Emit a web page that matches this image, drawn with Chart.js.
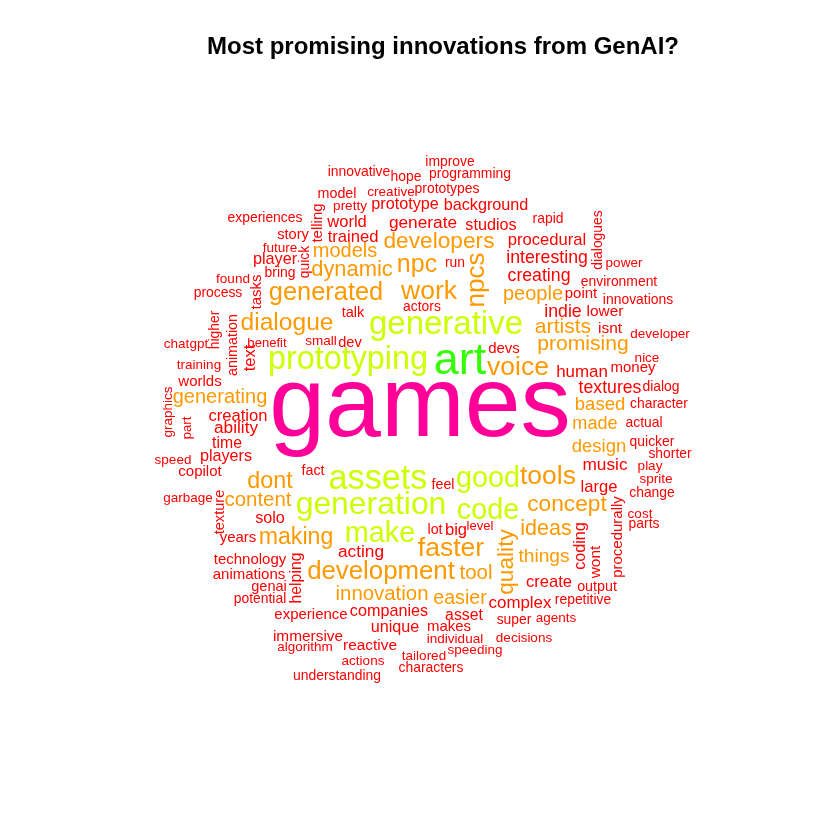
<!DOCTYPE html>
<html>
<head>
<meta charset="utf-8">
<script src="https://cdn.jsdelivr.net/npm/chart.js@4.4.1/dist/chart.umd.min.js"></script>
<style>
  html, body { margin: 0; padding: 0; background: #ffffff; }
  #wrap { width: 840px; height: 840px; }
</style>
</head>
<body>
<div id="wrap"><canvas id="c" width="840" height="840"></canvas></div>
<script>
// ---- Data: word frequencies (relative counts) and their placement in the cloud ----
const titleText = "Most promising innovations from GenAI?";

const words = [
  "games","art","generative","prototyping","assets","generation","good","code","make",
  "tools","npc","npcs","work","voice","faster","developers","generated","dialogue","dynamic",
  "models","artists","promising","people","generating","based","made","design","dont","content",
  "concept","ideas","making","things","quality","development","tool","innovation","easier",
  "interesting","procedural","creating","human","textures","music","indie","create","complex",
  "background","generate","studios","world","trained","prototype","story","player","creation",
  "ability","time","players","large","acting","solo","companies","unique","asset","experience",
  "immersive","makes","technology","animations","years","copilot","worlds","genai","reactive",
  "fact","talk","devs","money","lower","isnt","big","run","bring","future","process","found",
  "experiences","model","creative","pretty","innovative","hope","improve","programming",
  "prototypes","rapid","power","environment","point","innovations","developer","nice","dialog",
  "character","actual","quicker","shorter","play","sprite","change","cost","parts","output",
  "repetitive","agents","super","decisions","individual","speeding","tailored","characters",
  "actions","algorithm","understanding","potential","garbage","speed","training","chatgpt",
  "benefit","small","dev","actors","feel","lot","level",
  "telling","quick","tasks","higher","animation","text","graphics","part","texture","helping",
  "coding","wont","procedurally","dialogues"
];

const counts = [
  240,95,64,62,67,61,53,53,53,
  47,43,46,47,47,47,37,44,42,35,
  30,33,33,30,30,26,25,26,39,31,
  37,34,38,28,37,45,31,31,29,
  24,21,24,22,24,23,24,21,22,
  20,23,20,21,21,20,16,20,21,
  23,19,20,21,23,20,20,20,19,17,
  18,17,17,17,17,17,17,16,18,
  15,16,17,17,18,18,21,14,14,13,14,13,
  14,15,13,13,14,14,14,14,
  14,14,13,14,17,14,13,13,14,
  14,14,14,14,13,13,14,13,14,15,
  14,13,14,13,13,13,13,14,
  13,13,14,14,13,13,13,13,
  12,13,16,14,15,15,12,
  17,14,17,14,15,21,13,12,16,19,
  20,18,17,14
];

// placement of each word in the cloud (horizontal / vertical position units)
const posX = [
  420,460,446,348,378,371,488,488,380,
  548,417,477,429,518,451,439,326,287,352,
  345,563,583,533,220,600,595,599,270,258,
  567,546,296,544,507,381,476,382,460,
  547,547,539,582,610,605,563,549,520,
  486,423,491,347,353,405,293,275,238,
  236,227,226,599,361,270,389,395,464,311,
  308,449,250,249,238,200,200,269,370,
  313,353,504,633,605,610,456,455,280,280,218,233,
  265,337,391,350,359,406,450,470,
  447,548,624,619,581,638,660,647,661,
  659,644,652,670,650,656,652,640,644,597,
  583,556,514,524,455,475,424,431,
  363,305,337,260,188,173,199,186,
  267,321,350,422,443,435,480,
  318,305,257,215,233,250,168,187,220,297,
  581,596,618,598
];

const posY = [
  408,362,325,360,480,505,479,511,534,
  477,265,280,292,368,549,242,293,323,270,
  251,327,344,294,397,405,424,447,482,500,
  505,529,538,557,562,572,573,594,599,
  258,240,276,372,388,465,312,582,603,
  206,223,226,222,237,205,235,260,416,
  428,444,457,487,552,519,612,628,616,615,
  637,627,560,575,538,472,382,587,646,
  471,313,349,368,312,329,530,263,273,248,293,279,
  218,194,192,206,172,177,162,174,
  189,219,263,282,294,300,334,358,387,
  404,423,442,454,466,479,493,514,524,587,
  600,618,620,638,639,650,656,668,
  661,647,676,599,498,460,365,344,
  343,341,343,307,485,530,526,
  223,262,292,330,345,358,412,428,512,578,
  546,562,537,240
];

const verticalWords = [
  "npcs","quality","telling","quick","tasks","higher","animation","text","graphics",
  "part","texture","helping","coding","wont","procedurally","dialogues"
];

// R rainbow(10) palette, picked by frequency bin as wordcloud does
const palette = ["#FF0000","#FF9900","#CCFF00","#33FF00","#00FF66","#00FFFF","#0066FF","#3300FF","#CC00FF","#FF0099"];

const maxCount = Math.max(...counts);
const fontFor = c => 8.5 + 92 * c / maxCount;
const colorFor = c => palette[Math.max(0, Math.ceil(palette.length * c / maxCount) - 1)];

const points = words.map((w, i) => ({ x: posX[i], y: posY[i] }));

const wordCloudPlugin = {
  id: "wordCloud",
  afterDatasetsDraw(chart) {
    const ctx = chart.ctx;
    const meta = chart.getDatasetMeta(0);
    ctx.save();
    ctx.textAlign = "center";
    ctx.textBaseline = "middle";
    meta.data.forEach((el, i) => {
      const c = counts[i];
      ctx.save();
      ctx.translate(el.x, el.y);
      if (verticalWords.includes(words[i])) ctx.rotate(-Math.PI / 2);
      ctx.font = fontFor(c).toFixed(1) + 'px "Liberation Sans", Arial, Helvetica, sans-serif';
      ctx.fillStyle = colorFor(c);
      ctx.fillText(words[i], 0, 0);
      ctx.restore();
    });
    ctx.restore();
  }
};

const whiteBg = {
  id: "whiteBg",
  beforeDraw(chart) {
    const ctx = chart.ctx;
    ctx.save();
    ctx.fillStyle = "#ffffff";
    ctx.fillRect(0, 0, chart.width, chart.height);
    ctx.restore();
  }
};

new Chart(document.getElementById("c"), {
  type: "scatter",
  data: {
    datasets: [{
      label: "words",
      data: points,
      pointRadius: 0,
      pointHoverRadius: 0,
      showLine: false
    }]
  },
  options: {
    responsive: false,
    animation: false,
    devicePixelRatio: 1,
    layout: { padding: { left: 46, right: 0, top: 0, bottom: 0 } },
    plugins: {
      legend: { display: false },
      tooltip: { enabled: false },
      title: {
        display: true,
        text: titleText,
        color: "#000000",
        font: { family: '"Liberation Sans", Arial, sans-serif', size: 24, weight: "bold", lineHeight: 1.2 },
        padding: { top: 33, bottom: 8.2 }
      }
    },
    scales: {
      x: { type: "linear", min: 46, max: 840, display: false },
      y: { type: "linear", min: 70, max: 840, reverse: true, display: false }
    }
  },
  plugins: [whiteBg, wordCloudPlugin]
});
</script>
</body>
</html>
